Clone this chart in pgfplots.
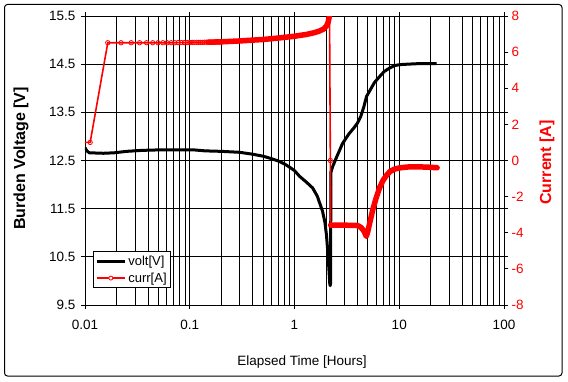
\documentclass[border=0pt]{standalone}
\usepackage{pgfplots}
\pgfplotsset{compat=1.18}
\usepackage{fontspec}
\setmainfont{Liberation Sans}
\begin{document}
\begin{tikzpicture}
\path (0pt,0pt) rectangle (568pt,381pt);
\draw[line width=1pt, rounded corners=3pt] (4.5pt,5pt) rectangle (562pt,376.5pt);
\begin{axis}[at={(85pt,76pt)}, anchor=south west, scale only axis,
  width=419pt, height=289pt,
  xmode=log, xmin=0.01, xmax=100, ymin=9.5, ymax=15.5,
  xtick={0.01,0.1,1,10,100}, xticklabels={0.01,0.1,1,10,100},
  ytick={9.5,10.5,11.5,12.5,13.5,14.5,15.5},
  yticklabels={9.5,10.5,11.5,12.5,13.5,14.5,15.5},
  xmajorgrids, xminorgrids, ymajorgrids,
  grid style={black, line width=0.8pt},
  minor grid style={black, line width=0.8pt},
  axis line style={black, line width=0.8pt},
  tick align=outside, major tick length=4pt, minor tick length=0pt,
  tick style={black, line width=0.8pt},
  ticklabel style={font=\fontsize{13.5}{15}\selectfont},
  xticklabel style={yshift=-8pt},
  yticklabel style={xshift=-2pt},
  /pgf/number format/assume math mode=true,
  clip=true,
]
\addplot[black, line width=3pt, line join=round] coordinates {
(0.0100,12.77)(0.0104,12.70)(0.0110,12.66)(0.0150,12.65)(0.0190,12.66)
(0.0250,12.69)(0.0350,12.71)(0.050,12.72)(0.080,12.72)(0.110,12.72)
(0.140,12.70)(0.200,12.69)(0.300,12.67)(0.400,12.63)(0.500,12.59)
(0.600,12.54)(0.700,12.49)(0.800,12.43)(0.900,12.36)(1.000,12.29)
(1.120,12.17)(1.300,12.05)(1.490,11.93)(1.650,11.76)(1.850,11.45)
(1.950,11.22)(2.020,10.95)(2.080,10.60)(2.130,10.25)(2.170,9.95)
(2.190,9.90)(2.210,9.95)(2.225,12.25)(2.31,12.37)(2.5,12.55)
(2.87,12.85)(3.3,13.05)(3.7,13.18)(4.0,13.28)(4.3,13.42)(4.6,13.62)
(4.87,13.83)(5.3,13.97)(5.8,14.12)(6.48,14.24)(7.2,14.35)(8.1,14.42)
(9,14.47)(10.1,14.49)(12,14.50)(15,14.51)(20,14.51)(22.8,14.51)
};
\end{axis}
\begin{axis}[at={(85pt,76pt)}, anchor=south west, scale only axis,
  width=419pt, height=289pt,
  xmode=log, xmin=0.01, xmax=100, ymin=-8, ymax=8,
  axis x line=none, axis y line*=right,
  ytick={-8,-6,...,8},
  axis line style={black, line width=0.8pt},
  tick align=outside, major tick length=4pt,
  tick style={black, line width=0.8pt},
  yticklabel style={font=\fontsize{13.5}{15}\selectfont, text=red},
  /pgf/number format/assume math mode=true,
  legend style={at={(0.019,0.059)}, anchor=south west, draw=black,
    line width=0.8pt, fill=white, font=\fontsize{13}{15}\selectfont,
    inner xsep=2pt, inner ysep=2pt, row sep=2pt},
  legend cell align=left,
]
\addlegendimage{legend image code/.code={\draw[black,line width=3pt](0pt,0pt)--(28pt,0pt);}}
\addlegendentry{volt[V]}
\addlegendimage{legend image code/.code={\draw[red,line width=1.6pt](0pt,0pt)--(28pt,0pt);
  \draw[red,fill=white,line width=0.8pt](14pt,0pt) circle (2pt);}}
\addlegendentry{curr[A]}
% thick band (dense markers) during discharge
\addplot[red, line width=5.5pt, line cap=round, line join=round, forget plot] coordinates {
(0.15,6.55)(0.2,6.57)(0.3,6.62)(0.5,6.70)(0.7,6.78)(1.0,6.88)(1.3,6.98)
(1.5,7.06)(1.7,7.15)(1.9,7.28)(2.02,7.45)(2.08,7.6)(2.12,7.8)(2.15,8.0)
};
% thin line with markers
\addplot[red, line width=1.6pt, mark=o, mark size=2.2pt,
  mark options={fill=white, line width=0.8pt}, forget plot] coordinates {
(0.0095,1.0)(0.0112,1.0)
(0.0165,6.52)(0.0221,6.52)(0.0276,6.52)(0.0332,6.52)(0.0387,6.52)(0.0443,6.52)
(0.0498,6.52)(0.0554,6.52)(0.0609,6.52)(0.0665,6.52)(0.0721,6.52)(0.0776,6.53)
(0.0832,6.53)(0.0887,6.53)(0.0943,6.53)(0.0998,6.53)(0.1054,6.54)(0.1109,6.54)
(0.1165,6.54)(0.1221,6.54)(0.1276,6.54)(0.1332,6.54)(0.1387,6.55)(0.1443,6.55)
(0.1498,6.55)(0.1554,6.55)(0.1609,6.55)(0.1665,6.55)(0.1721,6.56)(0.1776,6.56)
(0.1832,6.56)(0.1887,6.56)(0.1943,6.56)(0.1998,6.57)
};
% drop at end of discharge
\addplot[red, line width=1.6pt, forget plot] coordinates {
(2.16,8.0)(2.20,0.0)(2.21,-3.58)
};
\addplot[red, only marks, mark=o, mark size=2.2pt,
  mark options={fill=white, line width=0.8pt}, forget plot] coordinates {
(2.20,0.0)
};
% thick band during charge
\addplot[red, line width=5.5pt, line cap=round, line join=round, forget plot] coordinates {
(2.21,-3.58)(3.0,-3.58)(4.0,-3.6)(4.3,-3.7)(4.6,-3.9)(4.85,-4.2)(5.0,-3.95)
(5.3,-3.3)(5.6,-2.7)(6.0,-2.1)(6.5,-1.5)(7.0,-1.1)(7.6,-0.8)(8.2,-0.6)
(9,-0.48)(10,-0.41)(12,-0.36)(15,-0.35)(19,-0.37)(23,-0.40)
};
\end{axis}
\node[rotate=90, font=\bfseries\fontsize{16}{19}\selectfont] at (21pt,222.5pt) {Burden Voltage [V]};
\node[rotate=90, font=\bfseries\fontsize{16}{19}\selectfont, text=red] at (547pt,218.5pt) {Current [A]};
\node[font=\fontsize{13.5}{16}\selectfont] at (302pt,19pt) {Elapsed Time [Hours]};
\end{tikzpicture}
\end{document}
